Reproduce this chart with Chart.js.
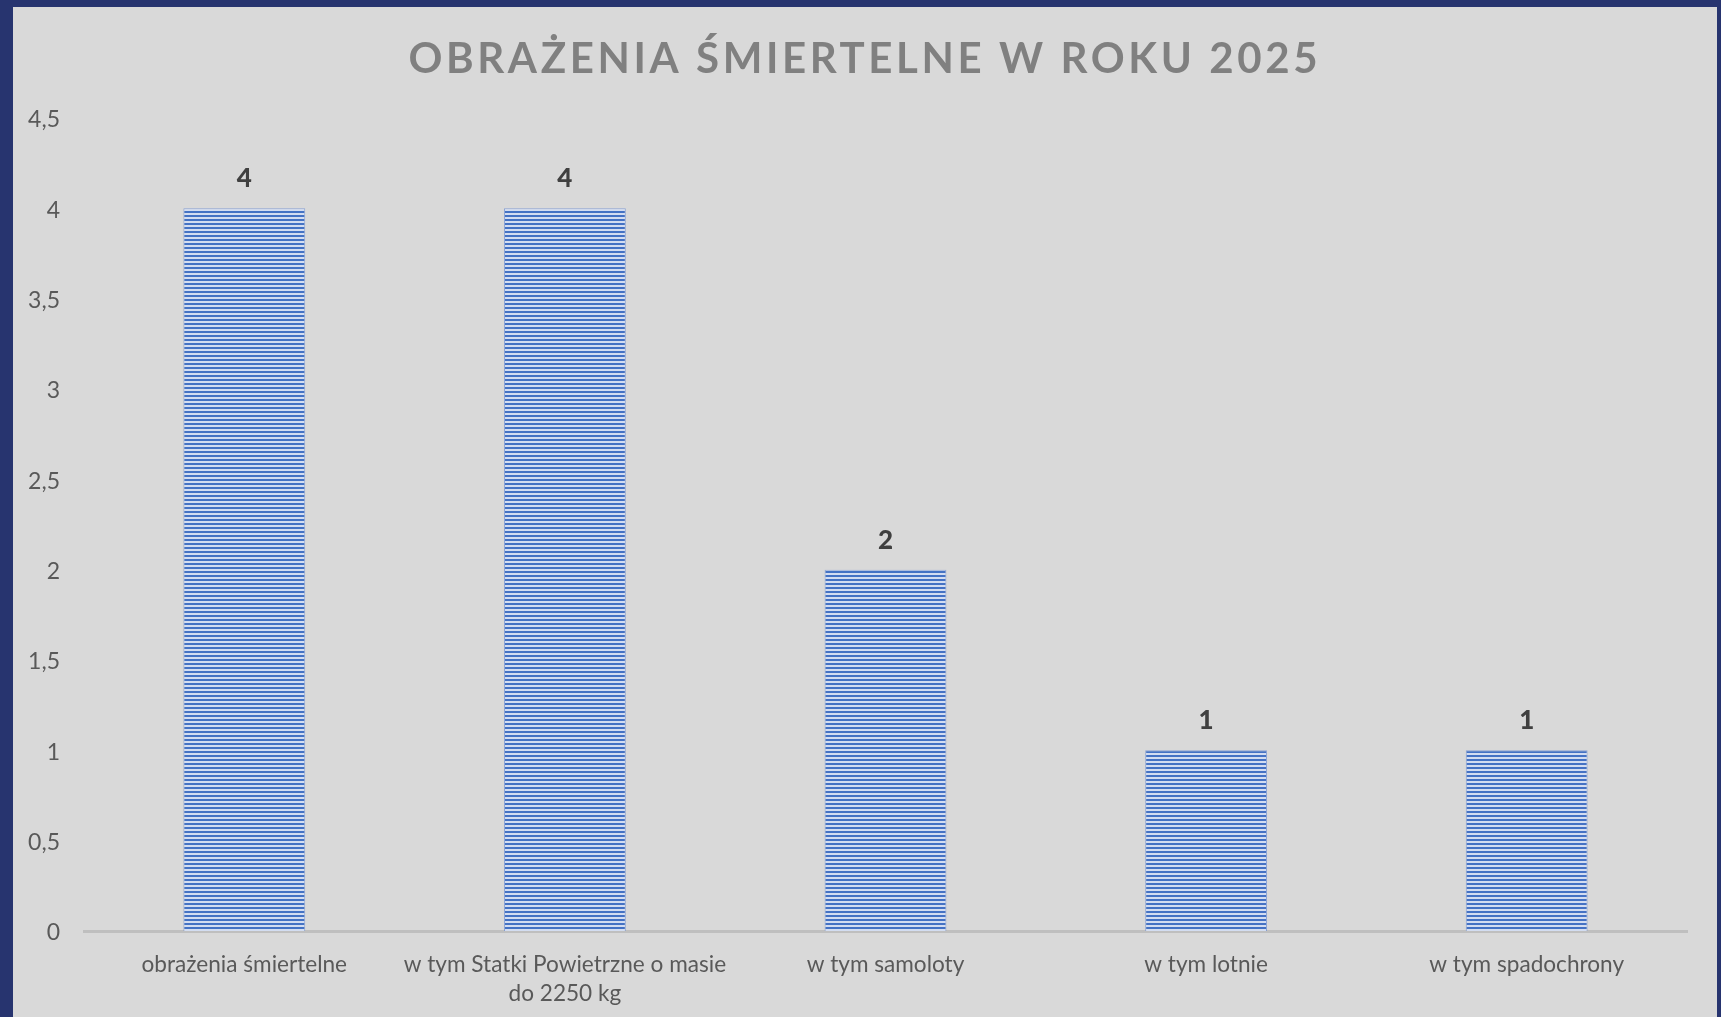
<!DOCTYPE html>
<html>
<head>
<meta charset="utf-8">
<script src="https://cdn.jsdelivr.net/npm/chart.js@4"></script>
<style>
  html, body { margin: 0; padding: 0; }
  body { width: 1721px; height: 1017px; background: #27346f; overflow: hidden; position: relative; }
  #panel { position: absolute; left: 13px; top: 7px; width: 1704px; height: 1010px; background: #d9d9d9; }
  #c { display: block; }
</style>
</head>
<body>
<div id="panel"><canvas id="c" width="1704" height="1010"></canvas></div>
<script>
const chartTitle = 'OBRAŻENIA ŚMIERTELNE W ROKU 2025';
const categories = [
  'obrażenia śmiertelne',
  ['w tym Statki Powietrzne o masie', 'do 2250 kg'],
  'w tym samoloty',
  'w tym lotnie',
  'w tym spadochrony'
];
const values = [4, 4, 2, 1, 1];
const yTickLabels = ['0', '0,5', '1', '1,5', '2', '2,5', '3', '3,5', '4', '4,5'];

const FONT = 'Lato, "Open Sans", sans-serif';

// striped fill pattern
function makePattern() {
  const t = document.createElement('canvas');
  t.width = 8; t.height = 4;
  const g = t.getContext('2d');
  g.fillStyle = '#4472c4'; g.fillRect(0, 0, 8, 2);
  g.fillStyle = '#d3ddf1'; g.fillRect(0, 2, 8, 2);
  return g.createPattern(t, 'repeat');
}

const titlePlugin = {
  id: 'spacedTitle',
  afterDraw(chart) {
    const ctx = chart.ctx;
    ctx.save();
    ctx.font = 'bold 42px ' + FONT;
    ctx.fillStyle = '#808080';
    ctx.textAlign = 'center';
    ctx.textBaseline = 'alphabetic';
    ctx.letterSpacing = '0px';
    const w = ctx.measureText(chartTitle).width;
    const target = 909;
    const sp = Math.max(0, (target - w) / (chartTitle.length - 1));
    ctx.letterSpacing = sp.toFixed(2) + 'px';
    ctx.fillText(chartTitle, 850 + sp / 2, 66);
    ctx.restore();
  }
};

const valueLabels = {
  id: 'valueLabels',
  afterDatasetsDraw(chart) {
    const ctx = chart.ctx;
    const meta = chart.getDatasetMeta(0);
    ctx.save();
    ctx.font = '900 26px ' + FONT;
    ctx.fillStyle = '#404040';
    ctx.textAlign = 'center';
    ctx.textBaseline = 'alphabetic';
    meta.data.forEach((bar, i) => {
      ctx.fillText(String(values[i]), bar.x, bar.y - 21);
    });
    ctx.restore();
  }
};

new Chart(document.getElementById('c'), {
  type: 'bar',
  data: {
    labels: categories,
    datasets: [{
      data: values,
      backgroundColor: makePattern(),
      borderColor: 'rgba(120,150,210,0.8)',
      borderWidth: 1,
      borderSkipped: 'bottom',
      categoryPercentage: 1,
      barPercentage: 0.38
    }]
  },
  options: {
    responsive: false,
    animation: false,
    layout: { padding: { top: 111, right: 30, bottom: 0, left: 0 } },
    plugins: {
      legend: { display: false },
      title: { display: false },
      tooltip: { enabled: false }
    },
    scales: {
      x: {
        grid: { display: false, drawTicks: false },
        border: { display: true, color: '#bfbfbf', width: 3 },
        ticks: {
          color: '#595959',
          font: { family: FONT, size: 22.6, lineHeight: 1.3 },
          padding: 19,
          maxRotation: 0,
          autoSkip: false
        },
        afterFit(s) { s.height = 86; }
      },
      y: {
        min: 0, max: 4.5,
        grid: { display: false, drawTicks: false },
        border: { display: false },
        ticks: {
          stepSize: 0.5,
          color: '#595959',
          font: { family: FONT, size: 23 },
          padding: 24,
          labelOffset: 2,
          callback: (v, i) => yTickLabels[i]
        },
        afterFit(s) { s.width = 71; }
      }
    }
  },
  plugins: [titlePlugin, valueLabels]
});
</script>
</body>
</html>
